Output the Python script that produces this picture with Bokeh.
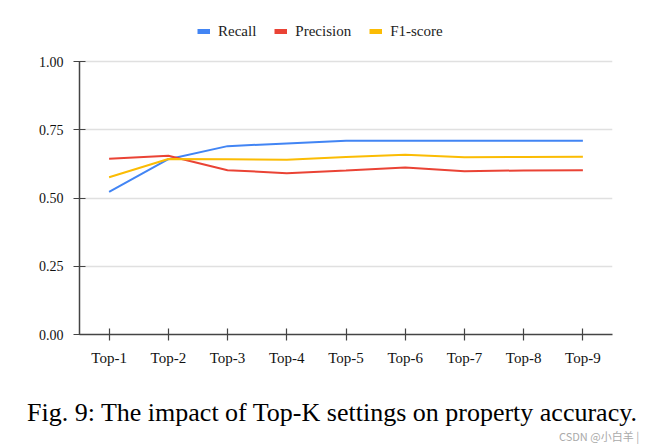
from bokeh.plotting import figure
from bokeh.layouts import column
from bokeh.models import (ColumnDataSource, FactorRange, Range1d, FixedTicker,
                          NumeralTickFormatter, Legend, LegendItem, Div)
from bokeh.embed import file_html
from bokeh.resources import INLINE

categories = ["Top-1", "Top-2", "Top-3", "Top-4", "Top-5", "Top-6", "Top-7", "Top-8", "Top-9"]
recall = [0.522, 0.642, 0.690, 0.700, 0.710, 0.710, 0.710, 0.710, 0.710]
precision = [0.644, 0.655, 0.602, 0.591, 0.601, 0.612, 0.598, 0.601, 0.602]
f1_score = [0.576, 0.643, 0.642, 0.640, 0.650, 0.658, 0.649, 0.650, 0.651]
y_ticks = [0.0, 0.25, 0.5, 0.75, 1.0]
series_names = ["Recall", "Precision", "F1-score"]
colors = ["#4285F4", "#EA4335", "#FBBC04"]
caption = "Fig. 9: The impact of Top-K settings on property accuracy."
watermark = "CSDN @小白羊 |"

SERIF = "Liberation Serif"
W = 655
TOP, BOTTOM, LEFT, RIGHT = 14, 40, 79, 43
FRAME_TOP_TO_ONE = 47   # px between frame top and the 1.00 gridline
PLOT_H = 273            # px from 0.00 to 1.00
H1 = TOP + FRAME_TOP_TO_ONE + PLOT_H + BOTTOM
y_end = (FRAME_TOP_TO_ONE + PLOT_H) / PLOT_H

p = figure(width=W, height=H1, x_range=FactorRange(*categories),
           y_range=Range1d(0, y_end), output_backend="svg", toolbar_location=None,
           min_border_left=LEFT, min_border_right=RIGHT, min_border_top=TOP,
           min_border_bottom=BOTTOM)
p.outline_line_color = None
p.background_fill_color = "white"
p.border_fill_color = "white"
# range far away from the data: renderers on it only provide legend icons
p.extra_y_ranges = {"legend_only": Range1d(10, 11)}

src = ColumnDataSource(dict(x=categories, recall=recall, precision=precision, f1=f1_score))
cols = ["recall", "precision", "f1"]
items = []
for c, col, name in zip(cols, colors, series_names):
    p.line("x", c, source=src, line_color=col, line_width=2)
    icon = p.line("x", c, source=src, line_color=col, line_width=5,
                  y_range_name="legend_only")
    items.append(LegendItem(label=name, renderers=[icon]))

legend = Legend(items=items, orientation="horizontal", location=(118, 293),
                glyph_width=13, glyph_height=20, label_height=20,
                label_standoff=8, spacing=18,
                padding=0, margin=0, border_line_color=None,
                background_fill_alpha=0, label_text_font=SERIF,
                label_text_font_size="15px", label_text_color="#222222")
p.add_layout(legend, "center")

p.xgrid.grid_line_color = None
p.ygrid.grid_line_color = "#e0e0e0"
p.ygrid.grid_line_width = 1.5

p.yaxis.ticker = FixedTicker(ticks=y_ticks)
p.yaxis.formatter = NumeralTickFormatter(format="0.00")
p.yaxis.bounds = (0, 1)
for ax in (p.xaxis, p.yaxis):
    ax.axis_line_color = "#444444"
    ax.axis_line_width = 1.5
    ax.major_tick_line_color = "#444444"
    ax.major_tick_line_width = 1.2
    ax.major_tick_in = 6
    ax.major_tick_out = 6
    ax.minor_tick_line_color = None
    ax.major_label_text_font = SERIF
    ax.major_label_text_color = "#111111"
p.xaxis.major_label_text_font_size = "15px"
p.xaxis.major_label_standoff = 9
p.yaxis.major_label_text_font_size = "14px"
p.yaxis.major_label_standoff = 10

# caption strip
H2 = 436 - H1
html = (
    f'<div style="position:relative;width:{W}px;height:{H2}px;overflow:visible;">'
    f'<div style="position:absolute;left:0px;top:26px;width:664px;text-align:center;'
    f'font-family:\'Liberation Serif\';font-size:26px;line-height:26px;color:#000;'
    f'white-space:nowrap;">{caption}</div>'
    f'<div style="position:absolute;left:559px;top:56px;white-space:nowrap;'
    f'font-family:\'Noto Sans CJK SC\';font-size:11px;line-height:12px;color:#aaaaaa;">'
    f'{watermark}</div></div>'
)
cap = Div(text=html, width=W, height=H2, margin=(0, 0, 0, 0))

layout = column(p, cap, spacing=0)
open("out.html", "w").write(file_html(layout, INLINE))
